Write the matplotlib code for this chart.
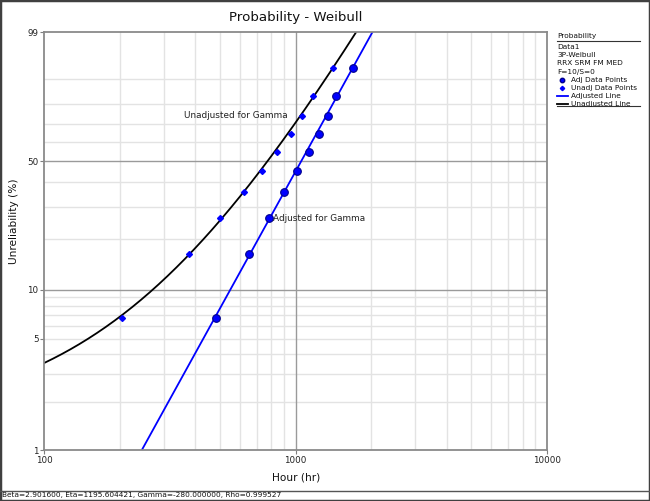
import matplotlib
matplotlib.use("Agg")
import matplotlib.pyplot as plt
import numpy as np
from matplotlib.lines import Line2D
from matplotlib.patches import Rectangle

# Weibull++ style 3P-Weibull probability plot
beta = 2.901600
eta = 1195.604421
gamma = -280.0
rho = 0.999527

# failure times (hr)
hours = np.array([204, 376, 503, 624, 736, 847, 958, 1061, 1173, 1412])
# median ranks (%)
unrel = np.array([6.73, 16.35, 25.96, 35.58, 45.19, 54.81, 64.42, 74.04, 83.65, 93.27])

y_ticks = [1, 5, 10, 50, 99]
y_grid = [2, 3, 4, 5, 6, 7, 8, 9, 20, 30, 40, 60, 70, 80, 90]
y_major = [10, 50]
x_ticks = [100, 1000, 10000]
x_grid = [200, 300, 400, 500, 600, 700, 800, 900,
          2000, 3000, 4000, 5000, 6000, 7000, 8000, 9000]

legend_lines = ["Data1", "3P-Weibull", "RRX SRM FM MED", "F=10/S=0"]

W, H = 650, 501


def fx(px):
    return px / W


def fy(py):
    return 1 - py / H


def fwd(F):
    F = np.clip(np.asarray(F, dtype=float), 1e-9, 100 - 1e-9)
    return np.log(-np.log(1 - F / 100.0))


def inv(y):
    return 100.0 * (1 - np.exp(-np.exp(np.asarray(y, dtype=float))))


def weib_cdf(t_adj):
    return 100.0 * (1 - np.exp(-(t_adj / eta) ** beta))


fig = plt.figure(figsize=(W / 100, H / 100), dpi=100)
ax = fig.add_axes([fx(44), fy(450), fx(547) - fx(44), fy(32) - fy(450)])
ax.set_xscale("log")
ax.set_yscale("function", functions=(fwd, inv))
ax.set_xlim(100, 10000)
ax.set_ylim(1, 99)

# grid
for g in y_grid:
    ax.axhline(g, color="#e3e3e3", lw=1, zorder=0)
for g in x_grid:
    ax.axvline(g, color="#e3e3e3", lw=1, zorder=0)
for g in y_major:
    ax.axhline(g, color="#9a9a9a", lw=1, zorder=0.5)
ax.axvline(1000, color="#9a9a9a", lw=1, zorder=0.5)

# fitted lines
t_adj = np.logspace(np.log10(100), np.log10(10000), 400)
ax.plot(t_adj, weib_cdf(t_adj), color="#0000ff", lw=1.3, zorder=2)
t_raw = np.logspace(np.log10(100), np.log10(10000), 400)
ax.plot(t_raw, weib_cdf(t_raw - gamma), color="black", lw=1.3, zorder=2)

# data points
ax.plot(hours - gamma, unrel, "o", color="#0000ff", mec="#00008b", mew=0.8,
        ms=5.5, zorder=3)
ax.plot(hours, unrel, "D", color="#0000ff", mec="#0000ff", ms=3.0, zorder=3)

ax.text(930, 74.04, "Unadjusted for Gamma", ha="right", va="center",
        fontsize=6.4, color="#222222")
ax.text(815, 25.96, "Adjusted for Gamma", ha="left", va="center",
        fontsize=6.4, color="#222222")

ax.set_yticks(y_ticks)
ax.set_yticklabels([str(v) for v in y_ticks])
ax.set_xticks(x_ticks)
ax.set_xticklabels([str(v) for v in x_ticks])
ax.minorticks_off()
ax.tick_params(axis="both", labelsize=6.3, length=3, width=0.8,
               color="#7f7f7f", labelcolor="#222222", pad=1)
for s in ax.spines.values():
    s.set_color("#8a8a8a")
    s.set_linewidth(1.3)

fig.text(fx(295.5), fy(18), "Probability - Weibull", ha="center", va="center",
         fontsize=9.6, color="#111111")
fig.text(fx(296), fy(477), "Hour (hr)", ha="center", va="center",
         fontsize=7.6, color="#111111")
fig.text(fx(14), fy(221), "Unreliability (%)", ha="center", va="center",
         rotation=90, fontsize=7.6, color="#111111")

# legend panel
lx = 557
fig.text(fx(lx), fy(36), "Probability", ha="left", va="center",
         fontsize=5.3, color="#111111")
fig.add_artist(Line2D([fx(lx), fx(640)], [fy(40.5), fy(40.5)],
                      color="#333333", lw=0.8))
ly = 47
for s in legend_lines:
    fig.text(fx(lx), fy(ly), s, ha="left", va="center", fontsize=5.3,
             color="#111111")
    ly += 8.2
items = [("Adj Data Points", "o"), ("Unadj Data Points", "D"),
         ("Adjusted Line", "blue"), ("Unadjusted Line", "black")]
for label, kind in items:
    if kind == "o":
        fig.add_artist(Line2D([fx(562)], [fy(ly)], marker="o", color="#0000ff",
                              mec="#00008b", ms=3.2, lw=0))
    elif kind == "D":
        fig.add_artist(Line2D([fx(562)], [fy(ly)], marker="D", color="#0000ff",
                              ms=2.2, lw=0))
    else:
        fig.add_artist(Line2D([fx(557), fx(568)], [fy(ly), fy(ly)],
                              color="#0000ff" if kind == "blue" else "black",
                              lw=1.3))
    fig.text(fx(571), fy(ly), label, ha="left", va="center", fontsize=5.3,
             color="#111111")
    ly += 8.2
fig.add_artist(Line2D([fx(lx), fx(640)], [fy(106), fy(106)],
                      color="#333333", lw=0.8))

# footer and outer frame
fig.add_artist(Line2D([0, 1], [fy(490.5), fy(490.5)], color="#555555", lw=1))
fig.text(fx(2), fy(495.5), "Beta=%.6f, Eta=%.6f, Gamma=%.6f, Rho=%.6f"
         % (beta, eta, gamma, rho), ha="left", va="center", fontsize=5.3,
         color="#111111")
fig.add_artist(Rectangle((0, 0), 1, 1, transform=fig.transFigure, fill=False,
                         edgecolor="#404040", lw=2.5))

plt.savefig("out.png", dpi=100)
plt.close()
